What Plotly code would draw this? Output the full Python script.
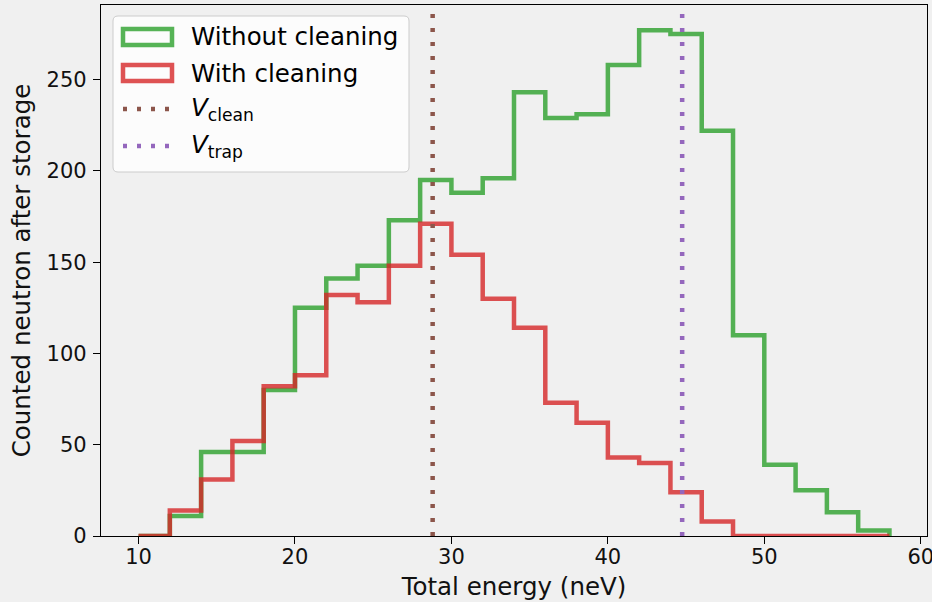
import plotly.graph_objects as go

# ---- data ----
bin_edges = list(range(10, 60, 2))  # 10 .. 58
without_cleaning = [0, 11, 46, 46, 80, 125, 141, 148, 173, 195, 188, 196,
                    243, 229, 231, 258, 277, 275, 222, 110, 39, 25, 13, 3]
with_cleaning = [0, 14, 31, 52, 82, 88, 132, 128, 148, 171, 154, 130,
                 114, 73, 62, 43, 40, 24, 8, 0, 0, 0, 0, 0]
v_clean = 28.8
v_trap = 44.75
x_ticks = [10, 20, 30, 40, 50, 60]
y_ticks = [0, 50, 100, 150, 200, 250]

GREEN = "rgba(44,160,44,0.8)"
RED = "rgba(214,39,40,0.8)"
BROWN = "#8c564b"
PURPLE = "#9467bd"
BG = "#f0f0f0"
FONT = "DejaVu Sans"
FS_TICK = 21
FS_LAB = 24.5
FS_LEG = 24.5

W, H = 932, 602
ML, MR, MT, MB = 101, 5, 5, 66
PW, PH = W - ML - MR, H - MT - MB


def px(xp):
    return (xp - ML) / PW


def py(yp):
    return (H - MB - yp) / PH


def step_xy(edges, counts):
    xs = [edges[0]] + list(edges) + [edges[-1]]
    ys = [0] + list(counts) + [counts[-1], 0]
    return xs, ys


fig = go.Figure()
for counts, col, name in [(without_cleaning, GREEN, "Without cleaning"),
                          (with_cleaning, RED, "With cleaning")]:
    xs, ys = step_xy(bin_edges, counts)
    fig.add_trace(go.Scatter(x=xs, y=ys, mode="lines", name=name,
                             line=dict(color=col, width=4.5, shape="hv"),
                             hoverinfo="skip"))

span = bin_edges[-1] - bin_edges[0]
xr = [bin_edges[0] - 0.05 * span, bin_edges[-1] + 0.05 * span]
ytop = 1.05 * max(without_cleaning)

shapes = []
for xv, col in [(v_clean, BROWN), (v_trap, PURPLE)]:
    shapes.append(dict(type="line", xref="x", yref="paper", x0=xv, x1=xv, y0=0, y1=1,
                       line=dict(color=col, width=4.5, dash="4px,10px")))

# legend box (rounded)
lx0, lx1, ly0, ly1, r = px(113), px(409), py(16), py(172), 5
rx, ry = r / PW, r / PH
path = (f"M {lx0+rx},{ly0} L {lx1-rx},{ly0} Q {lx1},{ly0} {lx1},{ly0-ry} "
        f"L {lx1},{ly1+ry} Q {lx1},{ly1} {lx1-rx},{ly1} L {lx0+rx},{ly1} "
        f"Q {lx0},{ly1} {lx0},{ly1+ry} L {lx0},{ly0-ry} Q {lx0},{ly0} {lx0+rx},{ly0} Z")
shapes.append(dict(type="path", xref="paper", yref="paper", path=path,
                   fillcolor="rgba(255,255,255,0.8)", line=dict(color="#cccccc", width=1)))

rows = [37, 73, 109, 146]
for yc, col in [(rows[0], GREEN), (rows[1], RED)]:
    shapes.append(dict(type="rect", xref="paper", yref="paper",
                       x0=px(123), x1=px(172), y0=py(yc - 8), y1=py(yc + 8),
                       line=dict(color=col, width=4.5), fillcolor="rgba(0,0,0,0)"))
for yc, col in [(rows[2], BROWN), (rows[3], PURPLE)]:
    shapes.append(dict(type="line", xref="paper", yref="paper",
                       x0=px(123), x1=px(175), y0=py(yc), y1=py(yc),
                       line=dict(color=col, width=4.5, dash="4px,10px")))

labels = ["Without cleaning", "With cleaning", "<i>V</i><sub>clean</sub>", "<i>V</i><sub>trap</sub>"]
annotations = []
for i, (yc, t) in enumerate(zip(rows, labels)):
    annotations.append(dict(xref="paper", yref="paper", x=px(189), y=py(yc),
                            text=t, showarrow=False, xanchor="left", yanchor="middle",
                            font=dict(family=FONT, size=FS_LEG, color="black")))

axis_common = dict(showgrid=False, zeroline=False, automargin=False,
                   showline=True, mirror=True, linecolor="black", linewidth=1.3,
                   ticks="outside", ticklen=7, tickwidth=1.3, tickcolor="black",
                   ticklabeloverflow="allow",
                   tickfont=dict(family=FONT, size=FS_TICK, color="#111"))

fig.update_layout(
    width=W, height=H, autosize=False,
    margin=dict(l=ML, r=MR, t=MT, b=MB),
    paper_bgcolor=BG, plot_bgcolor=BG,
    showlegend=False,
    font=dict(family=FONT, size=FS_TICK, color="black"),
    shapes=shapes, annotations=annotations,
    xaxis=dict(range=xr, tickvals=x_ticks, ticklabelstandoff=-5,
               title=dict(text="Total energy (neV)", standoff=9,
                          font=dict(family=FONT, size=FS_LAB, color="#111")),
               **axis_common),
    yaxis=dict(range=[0, ytop], tickvals=y_ticks, ticklabelstandoff=2,
               title=dict(text="Counted neutron after storage", standoff=8,
                          font=dict(family=FONT, size=FS_LAB, color="#111")),
               **axis_common),
)

fig.write_html("out.html", config={"displayModeBar": False},
               post_script="document.body.style.margin='0';document.body.style.overflow='hidden';")
